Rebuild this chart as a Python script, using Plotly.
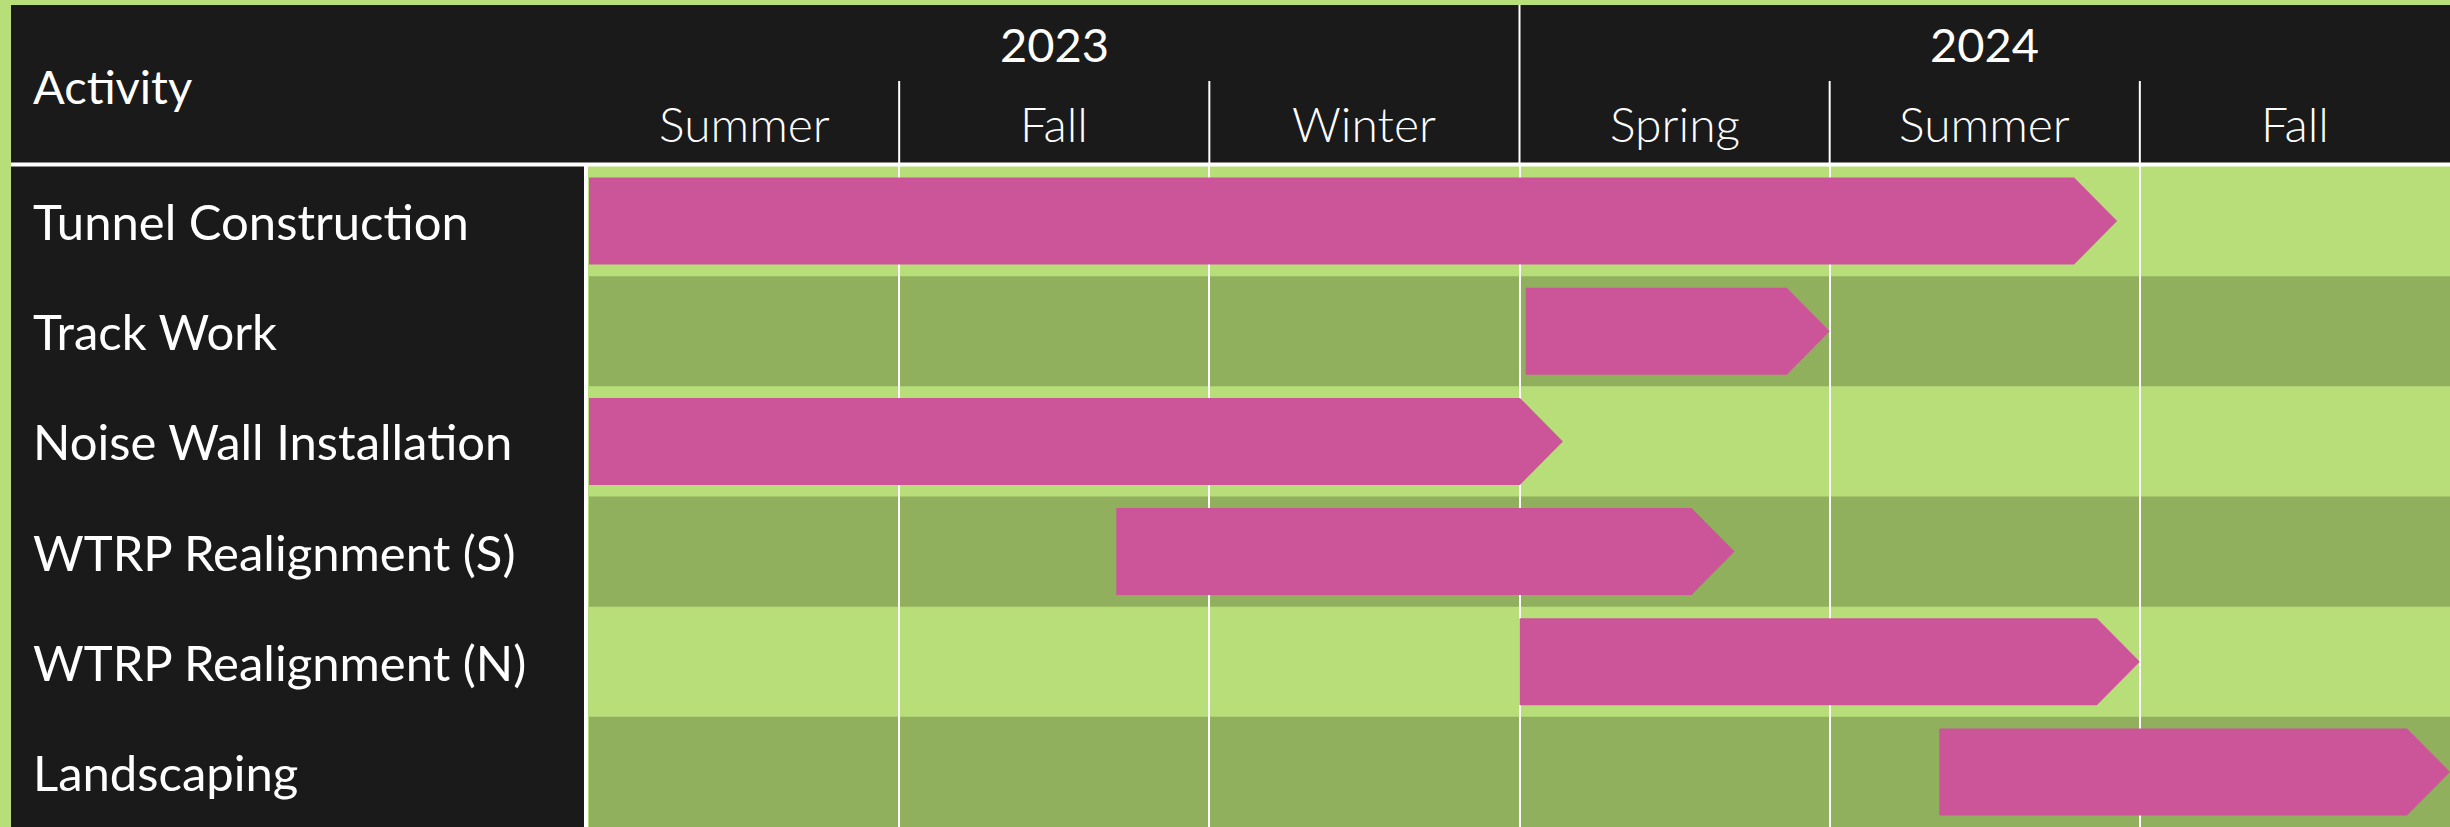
import plotly.graph_objects as go

# ---- data (months counted from 1 June 2023; each season = 3 months) ----
activities = ["Tunnel Construction", "Track Work", "Noise Wall Installation",
              "WTRP Realignment (S)", "WTRP Realignment (N)", "Landscaping"]
start_month = [0.0, 9.06, 0.0, 5.10, 9.0, 13.06]
end_month = [14.78, 12.0, 9.42, 11.08, 15.0, 18.0]
years = ["2023", "2024"]
year_start = [0, 9]
year_end = [9, 18]
seasons = ["Summer", "Fall", "Winter", "Spring", "Summer", "Fall"]
season_start = [0, 3, 6, 9, 12, 15]
season_len = 3

# ---- style ----
W, H = 2450, 827
LIGHT = "#B8DE7A"
DARK_ROW = "#91B05E"
HEADER = "#1A1A1A"
PINK = "#CC5599"
FONT = "Lato"

plot_left = 589
header_bottom = 165
left_border = 11
top_border = 5


def py(px_from_top):
    return (H - px_from_top) / H


n = len(activities)
x_max = season_start[-1] + season_len
px_per_month = (W - plot_left) / x_max
head = 43 / px_per_month
half_h = 0.395

fig = go.Figure()

# arrow bars
for i, (a, s, e) in enumerate(zip(activities, start_month, end_month)):
    xs = [s, e - head, e, e - head, s, s]
    ys = [i - half_h, i - half_h, i, i + half_h, i + half_h, i - half_h]
    fig.add_trace(go.Scatter(x=xs, y=ys, mode="lines", fill="toself",
                             fillcolor=PINK, line=dict(width=0, color=PINK),
                             hoverinfo="text", text=a, showlegend=False))

shapes = []
# alternating dark row bands
for i in range(n):
    if i % 2 == 1:
        shapes.append(dict(type="rect", xref="x", yref="y", x0=0, x1=x_max,
                           y0=i - 0.5, y1=i + 0.5, fillcolor=DARK_ROW,
                           line=dict(width=0), layer="below"))

# header block and left column
shapes.append(dict(type="rect", xref="paper", yref="paper",
                   x0=left_border / W, x1=1, y0=py(header_bottom), y1=py(top_border),
                   fillcolor=HEADER, line=dict(width=0), layer="above"))
shapes.append(dict(type="rect", xref="paper", yref="paper",
                   x0=left_border / W, x1=(plot_left - 4) / W, y0=0, y1=py(top_border),
                   fillcolor=HEADER, line=dict(width=0), layer="above"))
# white separators
shapes.append(dict(type="line", xref="paper", yref="paper",
                   x0=left_border / W, x1=1, y0=py(header_bottom - 0.5), y1=py(header_bottom - 0.5),
                   line=dict(color="white", width=4), layer="above"))
shapes.append(dict(type="line", xref="paper", yref="paper",
                   x0=(plot_left - 3) / W, x1=(plot_left - 3) / W, y0=0, y1=py(header_bottom),
                   line=dict(color="white", width=4), layer="above"))
# header vertical dividers
for ys in year_start[1:]:
    shapes.append(dict(type="line", xref="x", yref="paper", x0=ys, x1=ys,
                       y0=py(header_bottom), y1=py(top_border),
                       line=dict(color="white", width=2), layer="above"))
for ss in season_start[1:]:
    if ss in year_start:
        continue
    shapes.append(dict(type="line", xref="x", yref="paper", x0=ss, x1=ss,
                       y0=py(header_bottom), y1=py(81),
                       line=dict(color="white", width=2), layer="above"))

annotations = []
annotations.append(dict(text="Activity", xref="paper", yref="paper", x=31 / W, y=py(86),
                        xanchor="left", yanchor="middle", showarrow=False,
                        font=dict(family=FONT, size=47, color="white")))
for i, a in enumerate(activities):
    annotations.append(dict(text=a, xref="paper", yref="y", x=31 / W, y=i,
                            xanchor="left", yanchor="middle", showarrow=False,
                            font=dict(family=FONT, size=49, color="white")))
for y, ys, ye in zip(years, year_start, year_end):
    annotations.append(dict(text=y, xref="x", yref="paper", x=(ys + ye) / 2, y=py(44),
                            xanchor="center", yanchor="middle", showarrow=False,
                            font=dict(family=FONT, size=47, color="white")))
for s, ss in zip(seasons, season_start):
    annotations.append(dict(text=s, xref="x", yref="paper", x=ss + season_len / 2, y=py(123),
                            xanchor="center", yanchor="middle", showarrow=False,
                            font=dict(family=FONT, size=48, color="white", weight=300)))

fig.update_layout(
    width=W, height=H,
    margin=dict(l=0, r=0, t=0, b=0),
    paper_bgcolor=LIGHT, plot_bgcolor=LIGHT,
    shapes=shapes, annotations=annotations,
    xaxis=dict(domain=[plot_left / W, 1], range=[0, x_max],
               tickvals=season_start[1:], showticklabels=False, ticks="",
               showgrid=True, gridcolor="white", gridwidth=2,
               zeroline=False, showline=False, fixedrange=True),
    yaxis=dict(domain=[0, py(header_bottom + 1)], range=[n - 0.5, -0.5],
               showticklabels=False, showgrid=False, zeroline=False,
               showline=False, ticks="", fixedrange=True),
    showlegend=False,
)

fig.write_html(
    "out.html",
    config={"displayModeBar": False},
    post_script="document.body.style.margin='0';document.body.style.background='" + LIGHT + "';",
)
